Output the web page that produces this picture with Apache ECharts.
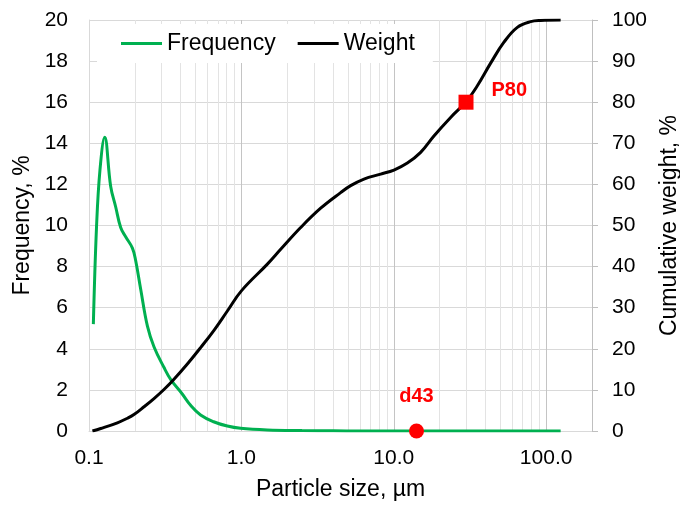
<!DOCTYPE html>
<html>
<head>
<meta charset="utf-8">
<script src="https://cdn.jsdelivr.net/npm/echarts@6/dist/echarts.min.js"></script>
<style>
  html, body { margin: 0; padding: 0; background: #fff; }
  #chart { width: 680px; height: 505px; }
</style>
</head>
<body>
<div id="chart"></div>
<script>
// ---- data ----
const freqSize  = [0.1068, 0.112, 0.118, 0.1268, 0.1388, 0.1497, 0.1614, 0.174, 0.1927, 0.2024, 0.2184, 0.2418, 0.2669, 0.3101, 0.3443, 0.4093, 0.4643, 0.5398, 0.6573, 0.8085, 0.9876, 1.48, 2.5, 4, 6, 10, 30, 124.5];
const freqValue = [5.2, 9.9, 12.7, 14.3, 11.9, 10.9, 9.9, 9.45, 8.9, 8.3, 6.9, 5.1, 4.1, 3.1, 2.5, 1.8, 1.25, 0.78, 0.45, 0.24, 0.13, 0.05, 0.02, 0.01, 0, 0, 0, 0];

const weightSize  = [0.1053, 0.1194, 0.1536, 0.1786, 0.1973, 0.2296, 0.267, 0.3105, 0.3612, 0.442, 0.5406, 0.661, 0.8092, 1.0, 1.481, 1.811, 2.449, 3.314, 4.482, 5.214, 6.376, 8.204, 10.03, 12.28, 15.01, 18.35, 23.62, 29.64, 35.37, 43.24, 52.86, 64.71, 79.12, 92.0, 124.5];
const weightValue = [0, 0.6, 2.0, 3.1, 4.0, 5.9, 7.9, 10.1, 12.6, 16.3, 20.3, 24.5, 29.2, 34.1, 40.6, 44.2, 49.5, 54.2, 58.0, 59.7, 61.3, 62.5, 63.5, 65.2, 67.8, 71.8, 76.3, 80.0, 84.0, 89.5, 94.6, 98.2, 99.6, 99.9, 100];

const p80Point = [29.8, 80];   // [size µm, cumulative weight %]
const d43Point = [14.1, 0];    // [size µm, frequency %]

const xMajorTicks = [0.1, 1, 10, 100];
const xMinorGrid  = [0.2, 0.3, 0.4, 0.5, 0.6, 0.7, 0.8, 0.9, 2, 3, 4, 5, 6, 7, 8, 9, 20, 30, 40, 50, 60, 70, 80, 90];

const xMin = 0.1, xMax = 200;
const leftMin = 0, leftMax = 20, leftStep = 2;
const rightMin = 0, rightMax = 100, rightStep = 10;

// ---- chart ----
const FONT = '"Liberation Sans", Arial, sans-serif';
const chart = echarts.init(document.getElementById('chart'), null, { renderer: 'canvas' });

const zip = (a, b) => a.map((v, i) => [v, b[i]]);
const isMajor = v => xMajorTicks.some(t => Math.abs(Math.log10(v) - Math.log10(t)) < 1e-6);

chart.setOption({
  animation: false,
  backgroundColor: '#fff',
  textStyle: { fontFamily: FONT },
  grid: { left: 89, right: 88, top: 20, bottom: 74, containLabel: false, outerBoundsMode: 'none' },
  legend: {
    data: [
      { name: 'Frequency', icon: 'rect', itemStyle: { color: '#00b050' } },
      { name: 'Weight', icon: 'rect', itemStyle: { color: '#000' } }
    ],
    left: 97, top: 24,
    padding: [8, 18, 8, 24],
    backgroundColor: '#fff',
    itemWidth: 41, itemHeight: 3, itemGap: 22,
    textStyle: { fontFamily: FONT, fontSize: 23, color: '#000' },
    z: 10
  },
  xAxis: {
    type: 'log', logBase: 10, min: xMin, max: xMax,
    name: 'Particle size, µm', nameLocation: 'middle', nameGap: 47,
    nameTextStyle: { fontFamily: FONT, fontSize: 23, color: '#000' },
    axisLine: { show: true, lineStyle: { color: '#d9d9d9', width: 1 } },
    axisTick: { show: false },
    axisLabel: {
      margin: 17, fontFamily: FONT, fontSize: 21, color: '#000',
      showMaxLabel: false,
      formatter: v => isMajor(v) ? Number(v).toFixed(1) : ''
    },
    splitLine: { show: true, lineStyle: { color: '#c4c4c4', width: 1 } }
  },
  yAxis: [
    {
      type: 'value', position: 'left', min: leftMin, max: leftMax, interval: leftStep,
      name: 'Frequency, %', nameLocation: 'middle', nameGap: 53, nameRotate: 90,
      nameTextStyle: { fontFamily: FONT, fontSize: 23, color: '#000' },
      axisLine: { show: true, lineStyle: { color: '#d9d9d9' } },
      axisTick: { show: false },
      axisLabel: { margin: 21, fontFamily: FONT, fontSize: 21, color: '#000' },
      splitLine: { show: true, lineStyle: { color: '#d9d9d9', width: 1 } }
    },
    {
      type: 'value', position: 'right', min: rightMin, max: rightMax, interval: rightStep,
      name: 'Cumulative weight, %', nameLocation: 'middle', nameGap: 63, nameRotate: 90,
      nameTextStyle: { fontFamily: FONT, fontSize: 23, color: '#000' },
      axisLine: { show: true, lineStyle: { color: '#bfbfbf' } },
      axisTick: { show: true, inside: false, length: 6, lineStyle: { color: '#bfbfbf' } },
      axisLabel: { margin: 20, fontFamily: FONT, fontSize: 21, color: '#000' },
      splitLine: { show: false }
    }
  ],
  series: [
    {
      name: 'minorGrid', type: 'line', data: [], z: 1, silent: true,
      markLine: {
        z: 1, silent: true, symbol: 'none', animation: false,
        label: { show: false },
        lineStyle: { color: '#e3e3e3', width: 1, type: 'solid' },
        emphasis: { disabled: true },
        data: xMinorGrid.map(v => ({ xAxis: v }))
      }
    },
    {
      name: 'Frequency', type: 'line', yAxisIndex: 0,
      data: zip(freqSize, freqValue),
      symbol: 'none', smooth: 0.4,
      lineStyle: { color: '#00b050', width: 3 },
      itemStyle: { color: '#00b050' },
      z: 3
    },
    {
      name: 'Weight', type: 'line', yAxisIndex: 1,
      data: zip(weightSize, weightValue),
      symbol: 'none', smooth: 0.4,
      lineStyle: { color: '#000', width: 3 },
      itemStyle: { color: '#000' },
      z: 3
    },
    {
      name: 'P80', type: 'scatter', yAxisIndex: 1,
      data: [p80Point],
      symbol: 'rect', symbolSize: 15,
      itemStyle: { color: '#ff0000', opacity: 1 },
      label: {
        show: true, position: 'right', distance: 18, offset: [0, -12],
        formatter: 'P80', color: '#ff0000', fontFamily: FONT, fontSize: 20, fontWeight: 'bold'
      },
      z: 5
    },
    {
      name: 'd43', type: 'scatter', yAxisIndex: 0,
      data: [d43Point],
      symbol: 'circle', symbolSize: 15,
      itemStyle: { color: '#ff0000', opacity: 1 },
      label: {
        show: true, position: 'top', distance: 17,
        formatter: 'd43', color: '#ff0000', fontFamily: FONT, fontSize: 20, fontWeight: 'bold'
      },
      z: 5
    }
  ]
});
</script>
</body>
</html>
